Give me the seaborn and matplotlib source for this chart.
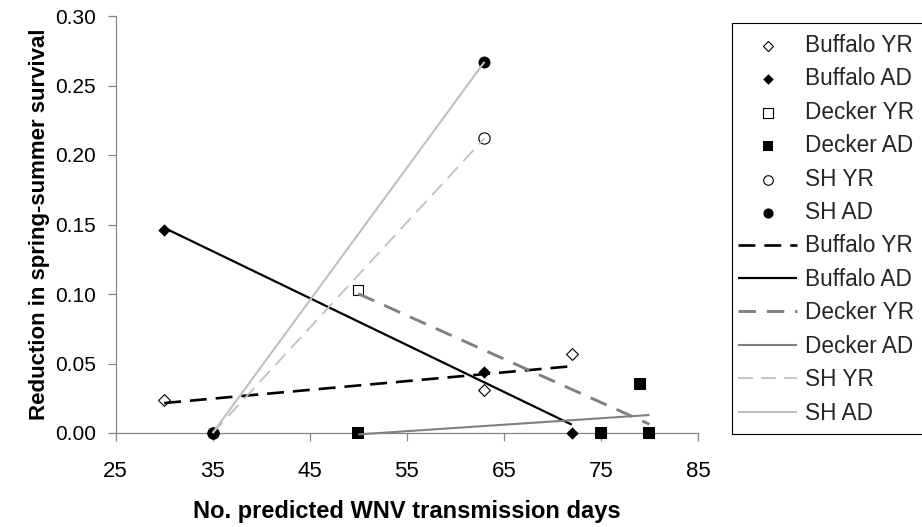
import matplotlib
matplotlib.use("Agg")
import matplotlib.pyplot as plt
from matplotlib.patches import Rectangle
from matplotlib.ticker import FormatStrFormatter
import seaborn as sns
import numpy as np

# Predicted WNV transmission days per site, and the reduction in
# spring-summer survival for yearlings (YR) and adults (AD)
buffalo_days = [30, 63, 72]
buffalo_yr = [0.024, 0.031, 0.057]
buffalo_ad = [0.146, 0.044, 0.000]

decker_days = [50, 75, 79, 80]
decker_yr = [0.103, 0.000, 0.035, 0.000]
decker_ad = [0.000, 0.000, 0.035, 0.000]

sh_days = [35, 63]
sh_yr = [0.000, 0.212]
sh_ad = [0.000, 0.267]

x_ticks = [25, 35, 45, 55, 65, 75, 85]
y_ticks = [0.00, 0.05, 0.10, 0.15, 0.20, 0.25, 0.30]

sns.set_theme(style="white")
plt.rcParams["font.family"] = ["Liberation Sans", "DejaVu Sans"]

W, H = 922, 527
fig = plt.figure(figsize=(W / 100, H / 100), dpi=100)
ax = fig.add_axes([115.6 / W, 1 - 433 / H, (698 - 115.6) / W, (433 - 16) / H])

BLACK = "#000000"
GREY = "#808080"
LIGHT = "#c0c0c0"

# point series: (label, x, y, marker, size, filled)
point_series = [
    ("Buffalo YR", buffalo_days, buffalo_yr, "D", 36, False),
    ("Buffalo AD", buffalo_days, buffalo_ad, "D", 40, True),
    ("Decker YR", decker_days, decker_yr, "s", 62, False),
    ("Decker AD", decker_days, decker_ad, "s", 72, True),
    ("SH YR", sh_days, sh_yr, "o", 66, False),
    ("SH AD", sh_days, sh_ad, "o", 74, True),
]

handles = []
for label, xs, ys, marker, size, filled in point_series:
    before = len(ax.collections)
    sns.scatterplot(
        x=xs, y=ys, ax=ax, marker=marker, s=size,
        color=BLACK if filled else "white",
        edgecolor=BLACK, linewidth=0.8 if not filled else 0,
        label=label, legend=False, zorder=3,
    )
    coll = ax.collections[before]
    coll.set_clip_on(False)
    handles.append(coll)

# linear trend lines: (label, x, y, color, lw, dashes)
trend_series = [
    ("Buffalo YR", buffalo_days, buffalo_yr, BLACK, 1.9, (6.4, 3.4)),
    ("Buffalo AD", buffalo_days, buffalo_ad, BLACK, 1.6, None),
    ("Decker YR", decker_days, decker_yr, GREY, 2.1, (6.0, 3.7)),
    ("Decker AD", decker_days, decker_ad, GREY, 1.5, None),
    ("SH YR", sh_days, sh_yr, LIGHT, 1.3, (8.3, 4.5)),
    ("SH AD", sh_days, sh_ad, LIGHT, 1.5, None),
]

for label, xs, ys, color, lw, dashes in trend_series:
    before = len(ax.lines)
    kws = dict(color=color, lw=lw, zorder=4, solid_capstyle="butt")
    if dashes is not None:
        kws["dashes"] = dashes
        kws["dash_capstyle"] = "butt"
    sns.regplot(x=np.array(xs, float), y=np.array(ys, float), ax=ax,
                scatter=False, ci=None, truncate=True, label=label,
                line_kws=kws)
    line = ax.lines[before]
    line.set_clip_on(False)
    handles.append(line)

ax.set_xlim(25, 85)
ax.set_ylim(0, 0.30)
ax.set_xticks(x_ticks)
ax.set_yticks(y_ticks)
ax.yaxis.set_major_formatter(FormatStrFormatter("%.2f"))

for side in ("top", "right"):
    ax.spines[side].set_visible(False)
for side in ("left", "bottom"):
    ax.spines[side].set_color("#868686")
    ax.spines[side].set_linewidth(0.9)

ax.tick_params(axis="both", which="major", direction="out", length=5.5,
               width=0.9, color="#868686", labelcolor="black",
               left=True, bottom=True)
ax.tick_params(axis="y", pad=8.5, labelsize=15)
ax.tick_params(axis="x", pad=14.5, labelsize=16)

ax.set_xlabel("No. predicted WNV transmission days", fontsize=17,
              fontweight="bold", color="black")
ax.set_ylabel("Reduction in spring-summer survival", fontsize=16,
              fontweight="bold", color="black")
ax.xaxis.set_label_coords(0.5, -0.16)
ax.yaxis.set_label_coords(-0.1126, 0.5)

leg = fig.legend(
    handles=handles, labels=[h.get_label() for h in handles],
    loc="upper left", bbox_to_anchor=(738 / W, 1 - 34 / H),
    bbox_transform=fig.transFigure, frameon=False, fontsize=16.3,
    borderpad=0, borderaxespad=0, handlelength=2.61, handletextpad=0.35,
    labelspacing=0.46, markerscale=0.85,
)

# legend frame, running off the right edge of the figure
fig.add_artist(Rectangle((732 / W, 1 - 434 / H), 220 / W, (434 - 23) / H,
                         transform=fig.transFigure, fill=False,
                         edgecolor="black", linewidth=0.8))

fig.savefig("out.png", dpi=100, facecolor="white")
